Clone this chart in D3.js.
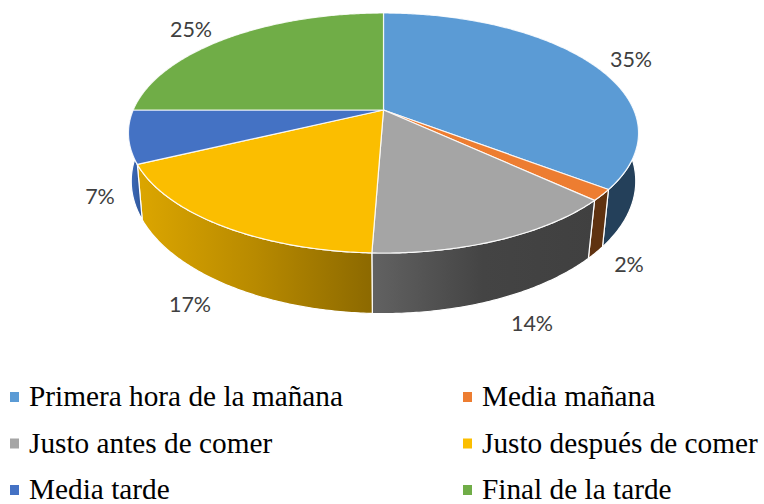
<!DOCTYPE html>
<html>
<head>
<meta charset="utf-8">
<script src="https://cdn.jsdelivr.net/npm/d3@7"></script>
<style>
  html, body { margin: 0; padding: 0; background: #fff; overflow: hidden; }
</style>
</head>
<body>
<div id="container"></div>
<script>
const categories = ["Primera hora de la mañana", "Media mañana", "Justo antes de comer", "Justo después de comer", "Media tarde", "Final de la tarde"];
const values = [35.4, 1.5, 13.7, 17.3, 7.1, 25];
const percentLabels = ["35%", "2%", "14%", "17%", "7%", "25%"];
const colors = ["#5B9BD5", "#ED7D31", "#A5A5A5", "#FBBE00", "#4472C4", "#70AD47"];

const width = 764;
const height = 504;

// hand placed like the original, one per slice
const labelPos = [[631, 59], [629, 264], [532, 323], [190, 304], [100, 196], [191, 29]];

// side wall shading, left to right
const wallStops = [
  ["#24405A", "#24405A"],
  ["#5F3210", "#5F3210"],
  ["#626262", "#444444", "#404040"],
  ["#DCA600", "#B88A00", "#8C6900"],
  ["#3F6FC0", "#2F5597"],
  ["#4A7530", "#4A7530"]
];

const svg = d3.select("#container")
  .append("svg")
  .attr("width", width)
  .attr("height", height);

const color = d3.scaleOrdinal().domain(categories).range(colors);

// perspective of the discs, k pulls the near edge towards the viewer
const topDisc = {cx: 383.5, cy: 110, rx: 250.3, ry: 115.6, k: 0.1917};
const bottomDisc = {cx: 383.5, cy: 160, rx: 249, ry: 129, k: 0.16};

function project(disc, angle) {
  const u = Math.sin(angle);
  const v = -Math.cos(angle);
  const w = 1 - disc.k * v;
  return [disc.cx + disc.rx * u / w, disc.cy + disc.ry * v / w];
}

function arcPoints(disc, a0, a1) {
  const n = Math.max(2, Math.ceil((a1 - a0) / 0.01));
  return d3.range(n + 1).map(i => project(disc, a0 + (a1 - a0) * i / n));
}

const line = d3.line();
const slices = d3.pie().sort(null).value(d => d)(values);

const defs = svg.append("defs");
wallStops.forEach((stops, i) => {
  const grad = defs.append("linearGradient").attr("id", "wall" + i);
  stops.forEach((c, j) => {
    grad.append("stop")
      .attr("offset", j / (stops.length - 1))
      .attr("stop-color", c);
  });
});

// only the near half of the rim can be seen
const rimStart = Math.PI / 2;
const rimEnd = Math.PI * 3 / 2;

svg.append("g")
  .selectAll("path")
  .data(slices.filter(d => d.endAngle > rimStart && d.startAngle < rimEnd))
  .enter()
  .append("path")
  .attr("d", d => {
    const a0 = Math.max(d.startAngle, rimStart);
    const a1 = Math.min(d.endAngle, rimEnd);
    const pts = arcPoints(topDisc, a0, a1).concat(arcPoints(bottomDisc, a0, a1).reverse());
    return line(pts) + "Z";
  })
  .attr("fill", d => `url(#wall${d.index})`)
  .attr("stroke", "#fff")
  .attr("stroke-width", 1.2)
  .attr("stroke-linejoin", "round");

svg.append("g")
  .selectAll("path")
  .data(slices)
  .enter()
  .append("path")
  .attr("d", d => {
    const apex = [topDisc.cx, topDisc.cy];
    return line([apex].concat(arcPoints(topDisc, d.startAngle, d.endAngle))) + "Z";
  })
  .attr("fill", d => color(categories[d.index]))
  .attr("stroke", "#fff")
  .attr("stroke-opacity", 0.85)
  .attr("stroke-width", 1.2)
  .attr("stroke-linejoin", "round");

svg.append("g")
  .selectAll("text")
  .data(percentLabels)
  .enter()
  .append("text")
  .attr("x", (d, i) => labelPos[i][0])
  .attr("y", (d, i) => labelPos[i][1])
  .attr("dy", "0.35em")
  .attr("text-anchor", "middle")
  .attr("font-family", "Lato, sans-serif")
  .attr("font-size", 21.5)
  .attr("fill", "#404040")
  .text(d => d);

// legend, two columns by three rows
const legendCol = d3.scalePoint().domain([0, 1]).range([10, 463]);
const legendRow = d3.scalePoint().domain([0, 1, 2]).range([397, 490]);

const legend = svg.append("g")
  .selectAll("g")
  .data(categories)
  .enter()
  .append("g")
  .attr("transform", (d, i) => `translate(${legendCol(i % 2)},${legendRow(Math.floor(i / 2))})`);

legend.append("rect")
  .attr("x", 0)
  .attr("y", -5)
  .attr("width", 9)
  .attr("height", 10)
  .attr("fill", d => color(d));

legend.append("text")
  .attr("x", 19)
  .attr("y", 9)
  .attr("font-family", "'Liberation Serif', serif")
  .attr("font-size", 29.3)
  .attr("fill", "#000")
  .text(d => d);
</script>
</body>
</html>
